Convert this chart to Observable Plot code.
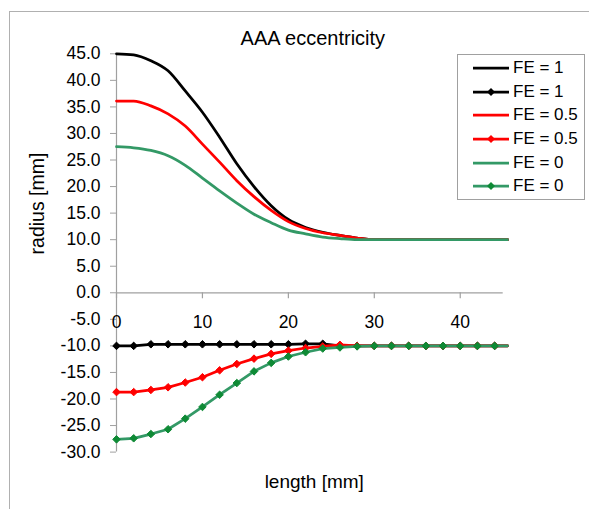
<!DOCTYPE html>
<html><head><meta charset="utf-8">
<script src="https://cdn.jsdelivr.net/npm/d3@7"></script>
<script src="https://cdn.jsdelivr.net/npm/@observablehq/plot@0.6"></script>
<style>
body{margin:0;background:#fff;font-family:"Liberation Sans",Arial,sans-serif;}
#wrap{position:relative;width:589px;height:509px;overflow:hidden;}
#frame{position:absolute;left:9px;top:11px;width:700px;height:700px;border:1px solid #b0b0b0;pointer-events:none;}
#legend{position:absolute;left:457px;top:54px;width:128px;height:146px;border:1px solid #a0a0a0;background:#fff;box-sizing:border-box;}
.row{position:absolute;left:0;height:20px;display:flex;align-items:center;font-size:17px;color:#000;}
.row svg{position:absolute;left:15px;top:4px;}
.row span{position:absolute;left:55px;white-space:nowrap;line-height:20px;top:0;}
</style></head>
<body><div id="wrap"><div id="frame"></div><div id="chart"></div><div id="legend"></div></div>
<script>
const xValues = [0,2,4,6,8,10,12,14,16,18,20,22,24,26,28,30,32,34,36,38,40,42,44,45.5];
const blackUpper = [45.0,44.8,43.7,41.8,38.0,34.0,29.3,24.3,20.0,16.4,13.8,12.3,11.4,10.8,10.3,10.0,10,10,10,10,10,10,10,10];
const blackLower = [-10.0,-10.0,-9.7,-9.7,-9.7,-9.7,-9.7,-9.7,-9.7,-9.7,-9.7,-9.6,-9.6,-10.0,-10.0,-10.0,-10,-10,-10,-10,-10,-10,-10,-10];
const redUpper = [36.1,36.1,35.2,33.7,31.4,28.0,24.6,21.1,18.1,15.5,13.4,12.1,11.3,10.8,10.3,10.0,10,10,10,10,10,10,10,10];
const redLower = [-18.7,-18.7,-18.3,-17.8,-16.9,-15.9,-14.6,-13.4,-12.4,-11.5,-10.9,-10.4,-10.1,-9.8,-10.0,-10.0,-10,-10,-10,-10,-10,-10,-10,-10];
const greenUpper = [27.5,27.3,26.8,25.8,24.0,21.6,19.2,16.9,14.8,13.2,11.8,11.1,10.5,10.2,10.0,10.0,10,10,10,10,10,10,10,10];
const greenLower = [-27.6,-27.4,-26.6,-25.7,-23.7,-21.5,-19.2,-17.0,-14.8,-13.2,-12.0,-11.2,-10.5,-10.3,-10.1,-10.0,-10,-10,-10,-10,-10,-10,-10,-10];
const seriesLabels = ["FE = 1","FE = 1","FE = 0.5","FE = 0.5","FE = 0","FE = 0"];
const seriesColors = ["#000000","#000000","#ff0000","#ff0000","#339966","#339966"];
const markerColors = ["#000000","#000000","#ff0000","#ff0000","#0e8a35","#0e8a35"];
const seriesHasMarker = [false,true,false,true,false,true];
const seriesValues = [blackUpper,blackLower,redUpper,redLower,greenUpper,greenLower];
const xTicks = [0,10,20,30,40];
const yTicks = [-30,-25,-20,-15,-10,-5,0,5,10,15,20,25,30,35,40,45];
const xDomain = [0,45];
const yDomain = [-30,45];
const maxMarkerX = 44;

const rows = [];
seriesValues.forEach((vals, s) => vals.forEach((v, i) => rows.push({s, x: xValues[i], y: v})));

const lineMarks = [];
seriesValues.forEach((vals, s) => {
  const data = rows.filter(r => r.s === s);
  lineMarks.push(Plot.line(data, {x:"x", y:"y", stroke: seriesColors[s], strokeWidth: 2.75,
    curve: seriesHasMarker[s] ? "linear" : "monotone-x", strokeLinejoin:"round"}));
  if (seriesHasMarker[s]) {
    lineMarks.push(Plot.dot(data.filter(r => r.x <= maxMarkerX), {x:"x", y:"y", symbol:"diamond2", r:3.4,
      fill: markerColors[s], stroke: markerColors[s], strokeWidth: 1}));
  }
});

const chart = Plot.plot({
  width: 589, height: 509,
  marginLeft: 116, marginRight: 86.3, marginTop: 53.3, marginBottom: 57.4,
  x: {domain: xDomain, axis: null, label: null},
  y: {domain: yDomain, label: null},
  style: {fontFamily: '"Liberation Sans", Arial, sans-serif', fontSize: "17.5px", background: "transparent", color: "#000"},
  marks: [
    Plot.ruleX([xDomain[0]], {y1: yDomain[0], y2: yDomain[1], stroke: "#a0a0a0", strokeWidth: 1.2}),
    Plot.ruleY([0], {x1: xDomain[0], x2: xDomain[1], stroke: "#a0a0a0", strokeWidth: 1.2}),
    Plot.axisY(yTicks, {tickFormat: d => d.toFixed(1), tickSize: 6, tickPadding: 10, stroke: "#a0a0a0", fill: "#000", fontSize: 17.5, label: null}),
    Plot.ruleX(xTicks, {x: d => d, y1: 0, y2: -1.13, stroke: "#a0a0a0", strokeWidth: 1.2}),
    Plot.text(xTicks, {x: d => d, y: 0, dy: 29.2, text: d => String(d), fontSize: 17.5, fill: "#000"}),
    ...lineMarks,
    Plot.text(["AAA eccentricity"], {frameAnchor: "top", text: d => d, lineAnchor: "bottom", dy: -9, dx: 3, fontSize: 20, fill: "#000"}),
    Plot.text(["length [mm]"], {frameAnchor: "bottom", text: d => d, lineAnchor: "bottom", dy: 35.4, dx: 4.4, fontSize: 19, fill: "#000"}),
    Plot.text(["radius [mm]"], {frameAnchor: "left", text: d => d, rotate: -90, lineAnchor: "bottom", dx: -73, dy: 1.5, fontSize: 19.5, fill: "#000"})
  ]
});
document.getElementById("chart").appendChild(chart);

const legend = document.getElementById("legend");
seriesLabels.forEach((lab, s) => {
  const row = document.createElement("div");
  row.className = "row";
  row.style.top = (2.85 + 23.7 * s) + "px";
  row.style.width = "126px";
  const mk = seriesHasMarker[s] ? `<path d="M18,2 L22,6 L18,10 L14,6 Z" fill="${markerColors[s]}"/>` : "";
  row.innerHTML = `<svg width="36" height="12"><line x1="0" y1="6" x2="36" y2="6" stroke="${seriesColors[s]}" stroke-width="2.75"/>${mk}</svg><span>${lab}</span>`;
  legend.appendChild(row);
});
</script></body></html>
